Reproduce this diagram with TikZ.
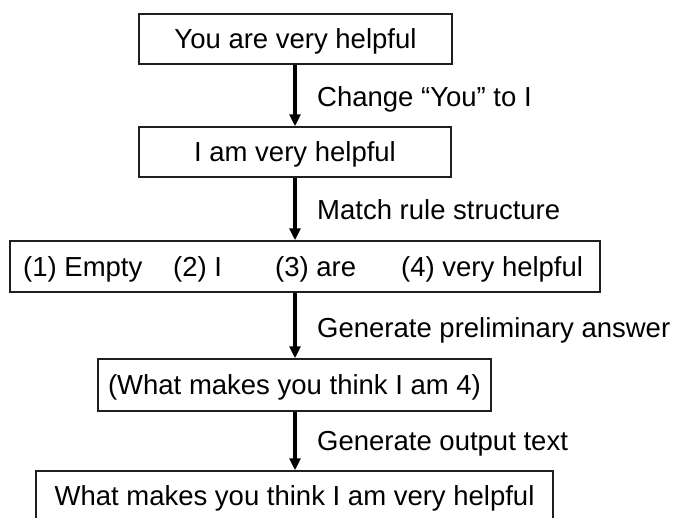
\documentclass[tikz,border=0pt]{standalone}
\usepackage{fontspec}
\setmainfont{Liberation Sans}
\usetikzlibrary{arrows.meta}
\begin{document}
\begin{tikzpicture}[x=1pt,y=-1pt,
  every node/.style={font=\fontsize{27.5}{33}\selectfont, inner sep=0pt},
  flowbox/.style={draw=black!88, line width=1.5pt, text height=20pt, text depth=2pt},
  flowarrow/.style={draw=black, line width=3.2pt, -{Triangle[width=11pt,length=12pt]}},
  steplabel/.style={anchor=base west},
  itemtext/.style={anchor=base west}]
\clip (0,0) rectangle (674,517);
\coordinate (ax) at (295,0);
\node[flowbox, minimum width=313pt, minimum height=50pt] (b1) at (295.5,39) {You are very helpful};
\node[flowbox, minimum width=312pt, minimum height=50pt] (b2) at (295,152) {I am very helpful};
\node[flowbox, minimum width=590pt, minimum height=51pt] (b3) at (305,266.5) {};
\node[itemtext] (t1) at (23,276) {(1) Empty};
\node[itemtext] (t2) at (173,276) {(2) I};
\node[itemtext] (t3) at (275,276) {(3) are};
\node[itemtext] (t4) at (401,276) {(4) very helpful};
\node[flowbox, minimum width=393pt, minimum height=52pt] (b4) at (294.5,385) {(What makes you think I am 4)};
\node[flowbox, minimum width=517pt, minimum height=50pt] (b5) at (294.5,496) {What makes you think I am very helpful};
\draw[flowarrow] (b1.south -| ax) -- (b2.north -| ax);
\draw[flowarrow] (b2.south -| ax) -- (b3.north -| ax);
\draw[flowarrow] (b3.south -| ax) -- (b4.north -| ax);
\draw[flowarrow] (b4.south -| ax) -- (b5.north -| ax);
\node[steplabel] (l1) at (317,106) {Change “You” to I};
\node[steplabel] (l2) at (317,219) {Match rule structure};
\node[steplabel] (l3) at (317,337) {Generate preliminary answer};
\node[steplabel] (l4) at (317,450) {Generate output text};
\end{tikzpicture}
\end{document}
